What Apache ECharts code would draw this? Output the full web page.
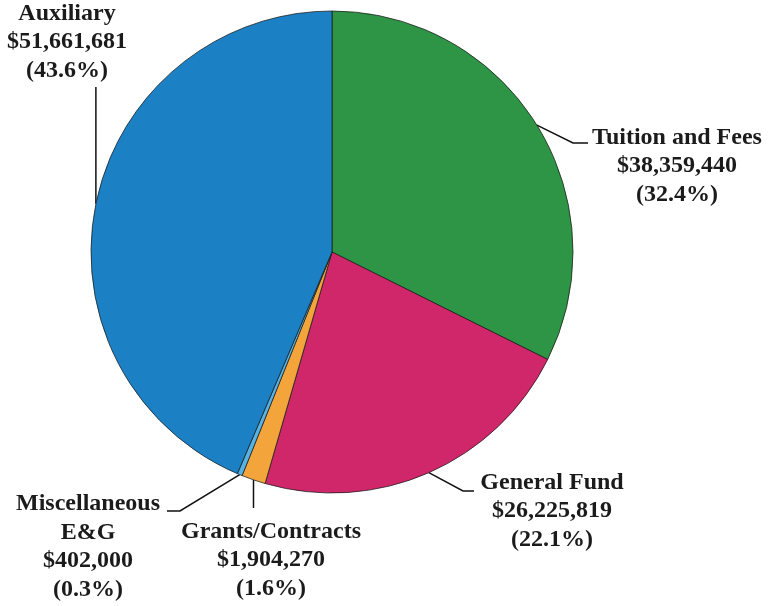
<!DOCTYPE html>
<html><head><meta charset="utf-8">
<script src="https://cdn.jsdelivr.net/npm/echarts@6/dist/echarts.min.js"></script>
<style>html,body{margin:0;padding:0;background:#fff}#c{width:769px;height:606px}</style>
</head><body><div id="c"></div>
<script>
// ---- data ----
const categories = ['Tuition and Fees', 'General Fund', 'Grants/Contracts', 'Miscellaneous\nE&G', 'Auxiliary'];
const amounts = [38359440, 26225819, 1904270, 402000, 51661681];
const sliceColors = ['#2f9546', '#d0276a', '#f3a53b', '#55b3e6', '#1c80c4'];

// ---- layout ----
const CX = 332, CY = 252, R = 241;
const labelLayouts = [
  { x: 677, y: 166, bend: [[573, 143], [588, 143]] },
  { x: 552, y: 511, bend: [[463, 491], [474, 491]] },
  { x: 271, y: 560, bend: 'down' },
  { x: 88, y: 547, bend: [[180, 511], [167, 511]] },
  { x: 67, y: 42, bend: 'up' }
];

const total = amounts.reduce((a, b) => a + b, 0);
let cum = 0;
const edgePoints = amounts.map(v => {
  const mid = (cum + v / 2) / total;
  cum += v;
  const t = mid * 2 * Math.PI;
  return [CX + R * Math.sin(t), CY - R * Math.cos(t)];
});

function linePoints(i) {
  const s = edgePoints[i];
  const b = labelLayouts[i].bend;
  if (b === 'up') return [s, [s[0], 87]];
  if (b === 'down') return [s, [s[0], 508]];
  return [s].concat(b);
}

const chart = echarts.init(document.getElementById('c'), null, { renderer: 'canvas' });
chart.setOption({
  backgroundColor: '#ffffff',
  animation: false,
  series: [{
    type: 'pie',
    center: [CX, CY],
    radius: [0, R],
    startAngle: 90,
    clockwise: true,
    avoidLabelOverlap: false,
    percentPrecision: 1,
    data: categories.map((n, i) => ({ name: n, value: amounts[i], itemStyle: { color: sliceColors[i] } })),
    itemStyle: { borderColor: 'rgba(25,25,25,0.75)', borderWidth: 1 },
    label: {
      show: true,
      position: 'outside',
      fontFamily: '"Liberation Serif", "Times New Roman", serif',
      fontWeight: 'bold',
      fontSize: 24,
      lineHeight: 28.5,
      color: '#1b1b1b',
      align: 'center',
      formatter: p => p.name + '\n$' + p.value.toLocaleString('en-US') + '\n(' + p.percent.toFixed(1) + '%)'
    },
    labelLine: { show: true, smooth: false, lineStyle: { color: '#111', width: 1.5 } },
    labelLayout: function (params) {
      const i = params.dataIndex;
      const L = labelLayouts[i];
      return { x: L.x, y: L.y, align: 'center', verticalAlign: 'middle', labelLinePoints: linePoints(i) };
    },
    emphasis: { disabled: true }
  }]
});
</script>
</body></html>
